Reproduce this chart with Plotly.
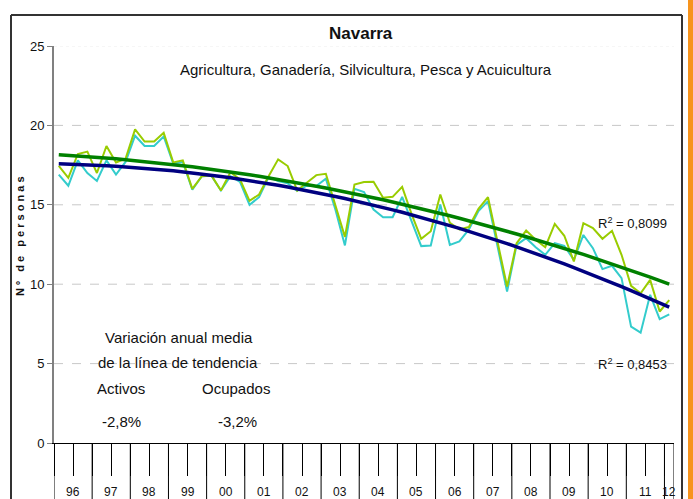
import numpy as np
import plotly.graph_objects as go

# ---------------- data ----------------
anios = ['96', '97', '98', '99', '00', '01', '02', '03', '04', '05',
         '06', '07', '08', '09', '10', '11', '12']
trimestres = [f"{a}T{q}" for a in anios[:-1] for q in range(1, 5)] + ["12T1"]

activos = [17.45, 16.7, 18.2, 18.35, 17.0, 18.7, 17.67, 17.9,
           19.75, 18.98, 18.98, 19.54, 17.67, 17.8, 16.0, 16.8,
           16.85, 15.9, 17.05, 16.6, 15.25, 15.65, 16.8, 17.86,
           17.44, 15.9, 16.39, 16.87, 16.95, 15.0, 12.98, 16.28,
           16.43, 16.45, 15.44, 15.5, 16.13, 14.4, 12.86, 13.34,
           15.65, 13.87, 13.45, 13.6, 14.75, 15.48, 12.7, 9.85,
           12.58, 13.38, 12.8, 12.33, 13.8, 13.05, 11.43, 13.84,
           13.53, 12.86, 13.36, 11.85, 9.9, 9.43, 10.27, 8.28,
           9.0]

ocupados = [16.9, 16.2, 17.8, 17.0, 16.5, 17.8, 16.9, 17.7,
            19.35, 18.7, 18.7, 19.3, 17.6, 17.7, 15.95, 16.8,
            16.83, 15.9, 16.8, 16.45, 15.0, 15.48, 16.75, 16.5,
            16.35, 15.88, 16.2, 16.18, 16.64, 14.7, 12.44, 16.0,
            15.8, 14.7, 14.22, 14.22, 15.5, 13.9, 12.4, 12.44,
            15.02, 12.48, 12.7, 13.45, 14.6, 15.23, 12.4, 9.54,
            12.48, 12.9, 12.33, 11.85, 12.58, 12.42, 11.53, 13.1,
            12.27, 10.95, 11.16, 10.38, 7.33, 6.95, 9.33, 7.8,
            8.1]

y_ticks = [0, 5, 10, 15, 20, 25]
r2_activos = "0,8099"
r2_ocupados = "0,8453"
var_activos = "-2,8%"
var_ocupados = "-3,2%"

# polynomial (order 2) trend lines, as in the original spreadsheet
idx = np.arange(len(trimestres))
tend_act = np.polyval(np.polyfit(idx, activos, 2), idx)
tend_ocu = np.polyval(np.polyfit(idx, ocupados, 2), idx)

# ---------------- layout helpers ----------------
W, H = 693, 499
L, R, T, B = 54, 674, 46, 443          # plot area in pixels


def px(x):
    return (x - L) / (R - L)


def py(y):
    return (B - y) / (B - T)


FONT = "Liberation Sans, Arial, sans-serif"

fig = go.Figure()
fig.add_trace(go.Scatter(x=trimestres, y=ocupados, mode="lines",
                         line=dict(color="#33CCCC", width=2), name="Ocupados"))
fig.add_trace(go.Scatter(x=trimestres, y=activos, mode="lines",
                         line=dict(color="#99CC00", width=2), name="Activos"))
fig.add_trace(go.Scatter(x=trimestres, y=tend_ocu, mode="lines",
                         line=dict(color="#000080", width=3.5), name="Tendencia ocupados"))
fig.add_trace(go.Scatter(x=trimestres, y=tend_act, mode="lines",
                         line=dict(color="#008000", width=3.5), name="Tendencia activos"))

n = len(trimestres)
shapes = []
# horizontal grid lines
for v in y_ticks[1:]:
    faint = v == y_ticks[-1]
    shapes.append(dict(type="line", xref="paper", yref="y", x0=0, x1=1, y0=v, y1=v,
                       layer="below",
                       line=dict(color="#EEEEEE" if faint else "#C8C8C8",
                                 width=1, dash="dot" if faint else "dash")))
# year separators (extend below the axis)
bounds = [4 * k - 0.5 for k in range(len(anios))] + [n - 0.5]
for b in bounds:
    shapes.append(dict(type="line", xref="x", yref="paper", x0=b, x1=b,
                       y0=0, y1=py(510), line=dict(color="black", width=1)))
# outer frame (top, left, right)
frame = dict(color="#333333", width=2)
shapes.append(dict(type="line", xref="paper", yref="paper",
                   x0=px(11), x1=px(682), y0=py(15), y1=py(15), line=frame))
shapes.append(dict(type="line", xref="paper", yref="paper",
                   x0=px(11), x1=px(11), y0=py(15), y1=py(520), line=frame))
shapes.append(dict(type="line", xref="paper", yref="paper",
                   x0=px(682), x1=px(682), y0=py(15), y1=py(520), line=frame))
# orange side bar
shapes.append(dict(type="rect", xref="paper", yref="paper",
                   x0=px(688), x1=px(695), y0=py(-5), y1=py(520),
                   fillcolor="#F7941D", line=dict(width=0)))

ann = []
# year labels
for k, a in enumerate(anios):
    xc = 4 * k + 1.5 if k < len(anios) - 1 else n - 1
    ann.append(dict(x=xc, y=py(492), xref="x", yref="paper", text=a,
                    showarrow=False, font=dict(size=12, color="#111111", family=FONT),
                    xanchor="center", yanchor="middle"))


def txt(x, y, s, size, bold=False, xanchor="center", angle=0):
    t = f"<b>{s}</b>" if bold else s
    ann.append(dict(x=px(x), y=py(y), xref="paper", yref="paper", text=t,
                    showarrow=False, textangle=angle,
                    font=dict(size=size, color="#111111", family=FONT),
                    xanchor=xanchor, yanchor="middle"))


txt(361, 33, "Navarra", 17, bold=True)
txt(366, 69, "Agricultura, Ganadería, Silvicultura, Pesca y Acuicultura", 15)
txt(179, 337, "Variación anual media", 15)
txt(178, 362, "de la línea de tendencia", 15)
txt(121, 388, "Activos", 15)
txt(236, 388, "Ocupados", 15)
txt(121, 421, var_activos, 15)
txt(237, 421, var_ocupados, 15)
txt(669, 223, f"R<sup>2</sup> = {r2_activos}", 13, xanchor="right")
txt(669, 364, f"R<sup>2</sup> = {r2_ocupados}", 13, xanchor="right")
txt(20, 236, "N º   d e   p e r s o n a s", 11, bold=True, angle=-90)

fig.update_layout(
    width=W, height=H,
    margin=dict(l=L, r=W - R, t=T, b=H - B, pad=0),
    paper_bgcolor="white", plot_bgcolor="white",
    showlegend=False,
    shapes=shapes, annotations=ann,
    font=dict(family=FONT, color="#111111"),
)
fig.update_xaxes(type="category", range=[-0.5, n - 0.5],
                 tickson="boundaries", ticks="outside", ticklen=32,
                 tickwidth=1, tickcolor="black", showticklabels=False,
                 showgrid=False, showline=True, linecolor="black", linewidth=1,
                 zeroline=False)
fig.update_yaxes(range=[0, 25], tickvals=y_ticks, ticks="outside", ticklen=5,
                 tickcolor="#808080", showline=True, linecolor="#808080",
                 linewidth=2, showgrid=False, zeroline=False,
                 tickfont=dict(size=13, color="#111111", family=FONT))

fig.write_html("out.html", config={"displayModeBar": False},
               post_script="document.body.style.margin='0';document.body.style.padding='0';")
